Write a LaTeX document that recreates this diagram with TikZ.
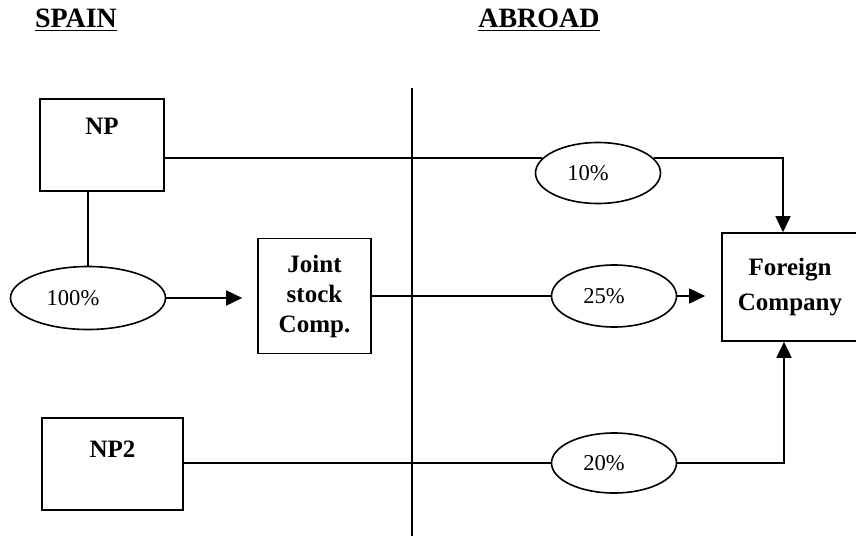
\documentclass[tikz,border=0pt]{standalone}
\usepackage{fontspec}
\setmainfont{Liberation Serif}
\usetikzlibrary{arrows.meta,shapes.geometric}

\begin{document}
\begin{tikzpicture}[x=0.5pt, y=-0.5pt, line width=0.8pt,
  box/.style={draw, inner sep=0pt, align=center, font=\fontsize{12.5}{15}\selectfont\bfseries},
  share/.style={draw, ellipse, inner sep=0pt, font=\fontsize{11.3}{13}\selectfont},
  title/.style={anchor=base, font=\fontsize{14}{16}\selectfont\bfseries},
  arr/.style={-{Triangle[length=8pt,width=7.5pt]}}]
\useasboundingbox (0,0) rectangle (856,536);

% headings
\node[title] (spain) at (76,27) {\underline{SPAIN}};
\node[title] (abroad) at (539,27) {\underline{ABROAD}};

% border line
\coordinate (divtop) at (412,88);
\coordinate (divbot) at (412,536);
\draw (divtop) -- (divbot);

% boxes
\node[box, minimum width=62pt, minimum height=46pt,
  label={[box, draw=none, anchor=north, yshift=-9.5pt]north:NP}] (np) at (102,145) {};
\node[box, minimum width=70.5pt, minimum height=46pt,
  label={[box, draw=none, anchor=north, yshift=-11.5pt]north:NP2}] (np2) at (112.5,464) {};
\node[box, minimum width=56.5pt, minimum height=57.5pt] (jsc) at (314.5,296) {Joint\\stock\\Comp.};
\node[box, minimum width=68pt, minimum height=54pt] (fc) at (790,287) {Foreign\\[2.5pt]Company};

% shares
\node[share, minimum width=77.5pt, minimum height=31.5pt] (p100) at (88,298) {100\%\hspace*{15pt}};
\node[share, minimum width=62.5pt, minimum height=30.5pt] (p10) at (598,173) {10\%\hspace*{10pt}};
\node[share, minimum width=62.5pt, minimum height=31pt] (p25) at (614,296) {25\%\hspace*{10pt}};
\node[share, minimum width=62.5pt, minimum height=30pt] (p20) at (614,463) {20\%\hspace*{10pt}};

% links
\draw (np.east |- p10.165) -- (p10.165);
\draw[arr] (p10.15) -| ([xshift=-3.5pt]fc.north);
\draw (p100.north) -- (p100.north |- np.south);
\draw[arr, shorten >=7.5pt] (p100.east) -- (p100.east -| jsc.west);
\draw (jsc.east |- p25.west) -- (p25.west);
\draw[arr, shorten >=8pt] (p25.east) -- (p25.east -| fc.west);
\draw (np2.east |- p20.west) -- (p20.west);
\draw[arr] (p20.east) -| ([xshift=-3pt]fc.south);
\end{tikzpicture}
\end{document}
